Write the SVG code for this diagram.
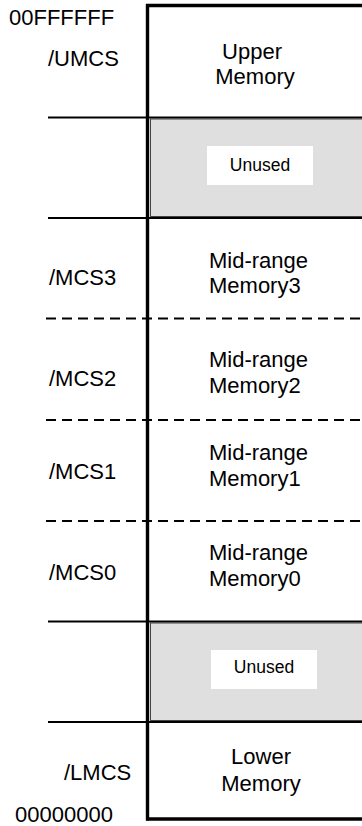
<svg xmlns="http://www.w3.org/2000/svg" width="362" height="826" viewBox="0 0 362 826">
<style>
text{font-family:"Liberation Sans",Arial,sans-serif;fill:#000}
.lbl{font-size:22px}
.mem{font-size:22px}
.un{font-size:17.5px;text-anchor:middle}
.c{text-anchor:middle}
.solid{stroke:#000;stroke-width:2;fill:none}
.dash{stroke:#000;stroke-width:2;stroke-dasharray:10 6;fill:none}
.grey{fill:#dfdfdf;stroke:#444;stroke-width:1}
.wbox{fill:#fff}
.edge{stroke:#000;stroke-width:3.4;fill:none}
</style>
<rect width="362" height="826" fill="#fff"/>
<g id="addresses">
<text class="lbl" x="9" y="25">00FFFFFF</text>
<text class="lbl" x="15" y="822">00000000</text>
</g>
<g id="upper">
<text class="lbl" x="48" y="66">/UMCS</text>
<text class="mem c" x="252" y="59">Upper</text>
<text class="mem c" x="255" y="84">Memory</text>
</g>
<g id="unused1">
<rect class="grey" x="150.5" y="119" width="220" height="97.5"/>
<rect class="wbox" x="207" y="146" width="106" height="39"/>
<text class="un" x="260" y="171">Unused</text>
</g>
<g id="mcs3">
<text class="lbl" x="49" y="285">/MCS3</text>
<text class="mem" x="209" y="268">Mid-range</text>
<text class="mem" x="209" y="293">Memory3</text>
</g>
<g id="mcs2">
<text class="lbl" x="49" y="386">/MCS2</text>
<text class="mem" x="209" y="367">Mid-range</text>
<text class="mem" x="209" y="393">Memory2</text>
</g>
<g id="mcs1">
<text class="lbl" x="49" y="479">/MCS1</text>
<text class="mem" x="209" y="460">Mid-range</text>
<text class="mem" x="209" y="486">Memory1</text>
</g>
<g id="mcs0">
<text class="lbl" x="49" y="580">/MCS0</text>
<text class="mem" x="209" y="560">Mid-range</text>
<text class="mem" x="209" y="586">Memory0</text>
</g>
<g id="unused2">
<rect class="grey" x="150.5" y="623" width="220" height="97.5"/>
<rect class="wbox" x="211" y="650" width="106" height="39"/>
<text class="un" x="264" y="673">Unused</text>
</g>
<g id="lower">
<text class="lbl" x="64" y="780">/LMCS</text>
<text class="mem c" x="261" y="764">Lower</text>
<text class="mem c" x="261" y="791">Memory</text>
</g>
<g id="connectors">
<line class="solid" x1="48" y1="117.5" x2="362" y2="117.5"/>
<line class="solid" x1="48" y1="218" x2="362" y2="218"/>
<line class="dash" x1="46" y1="318.5" x2="362" y2="318.5"/>
<line class="dash" x1="46" y1="420" x2="362" y2="420"/>
<line class="dash" x1="46" y1="521" x2="362" y2="521"/>
<line class="solid" x1="48" y1="621.5" x2="362" y2="621.5"/>
<line class="solid" x1="48" y1="722" x2="362" y2="722"/>
<line class="edge" x1="146" y1="5.5" x2="362" y2="5.5"/>
<line class="edge" x1="146" y1="819" x2="362" y2="819"/>
<line class="edge" x1="147.5" y1="4" x2="147.5" y2="820.5"/>
</g>
</svg>
